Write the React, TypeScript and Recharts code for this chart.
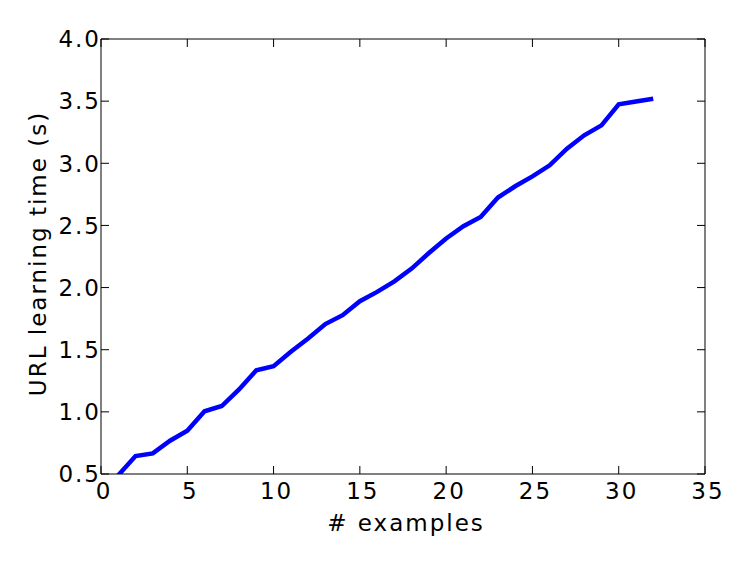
import { LineChart, Line, XAxis, YAxis, Label } from "recharts";

// number of examples vs URL learning time (seconds)
const examples = [
  1, 2, 3, 4, 5, 6, 7, 8, 9, 10, 11, 12, 13, 14, 15, 16, 17, 18, 19, 20, 21,
  22, 23, 24, 25, 26, 27, 28, 29, 30, 31, 32,
];
const learningTime = [
  0.49, 0.645, 0.666, 0.768, 0.848, 1.005, 1.047, 1.18, 1.335, 1.368, 1.483,
  1.59, 1.706, 1.778, 1.89, 1.965, 2.05, 2.153, 2.278, 2.395, 2.494, 2.568,
  2.724, 2.815, 2.895, 2.984, 3.118, 3.225, 3.305, 3.474, 3.497, 3.52,
];
const xTicks = [0, 5, 10, 15, 20, 25, 30, 35];
const yTicks = [0.5, 1.0, 1.5, 2.0, 2.5, 3.0, 3.5, 4.0];

const data = examples.map((n, i) => ({ n, time: learningTime[i] }));

const FONT = "'DejaVu Sans', sans-serif";
const FS = 23;
const SPACING = 2; // old matplotlib text comes out a little wider
const TICK_LEN = 8;

// matplotlib-style ticks: pointing into the plot
const BottomTick = (p: any) => (
  <g>
    <line x1={p.x} y1={p.y} x2={p.x} y2={p.y - TICK_LEN} stroke="#000" />
    <text
      x={p.x + 3}
      y={p.y + 9}
      dy="0.71em"
      textAnchor="middle"
      fontSize={FS}
      fontFamily={FONT}
      letterSpacing={SPACING}
      fill="#000"
    >
      {p.payload.value}
    </text>
  </g>
);

const LeftTick = (p: any) => (
  <g>
    <line x1={p.x} y1={p.y} x2={p.x + TICK_LEN} y2={p.y} stroke="#000" />
    <text
      x={p.x}
      y={p.y}
      dy="0.36em"
      textAnchor="end"
      fontSize={FS}
      fontFamily={FONT}
      letterSpacing={SPACING}
      fill="#000"
    >
      {Number(p.payload.value).toFixed(1)}
    </text>
  </g>
);

const TopTick = (p: any) => (
  <line x1={p.x} y1={p.y} x2={p.x} y2={p.y + TICK_LEN} stroke="#000" />
);

const RightTick = (p: any) => (
  <line x1={p.x} y1={p.y} x2={p.x - TICK_LEN} y2={p.y} stroke="#000" />
);

const XTitle = (props: any) => {
  const vb = props.viewBox || { x: 101, width: 604, y: 474 };
  return (
    <text
      x={vb.x + vb.width / 2 + 3}
      y={vb.y + 57}
      textAnchor="middle"
      fontSize={FS}
      fontFamily={FONT}
      letterSpacing={SPACING}
      fill="#000"
    >
      # examples
    </text>
  );
};

const YTitle = (props: any) => {
  const vb = props.viewBox || { y: 39, height: 435 };
  const cx = 38;
  const cy = vb.y + vb.height / 2 - 3;
  return (
    <text
      x={cx}
      y={cy}
      transform={`rotate(-90 ${cx} ${cy})`}
      textAnchor="middle"
      dominantBaseline="central"
      fontSize={FS}
      fontFamily={FONT}
      letterSpacing={SPACING}
      fill="#000"
    >
      URL learning time (s)
    </text>
  );
};

export default function App() {
  return (
    <div
      style={{
        position: "fixed",
        left: 0,
        top: 0,
        width: 747,
        height: 561,
        background: "#fff",
      }}
    >
      <LineChart
        width={747}
        height={561}
        data={data}
        margin={{ top: 38, right: 41, bottom: 0, left: 0 }}
      >
        <XAxis
          dataKey="n"
          type="number"
          domain={[0, 35]}
          ticks={xTicks}
          interval={0}
          height={87}
          tickSize={0}
          tickMargin={0}
          tick={BottomTick}
          tickLine={false}
          axisLine={{ stroke: "#000", strokeWidth: 1 }}
        >
          <Label content={XTitle} />
        </XAxis>
        <XAxis
          xAxisId="top"
          orientation="top"
          dataKey="n"
          type="number"
          domain={[0, 35]}
          ticks={xTicks}
          interval={0}
          height={1}
          tickSize={0}
          tickMargin={0}
          tick={TopTick}
          tickLine={false}
          axisLine={{ stroke: "#000", strokeWidth: 1 }}
        />
        <YAxis
          type="number"
          domain={[0.5, 4]}
          ticks={yTicks}
          interval={0}
          allowDataOverflow
          width={101}
          tickSize={0}
          tickMargin={0}
          tick={LeftTick}
          tickLine={false}
          axisLine={{ stroke: "#000", strokeWidth: 1 }}
        >
          <Label content={YTitle} />
        </YAxis>
        <YAxis
          yAxisId="right"
          orientation="right"
          type="number"
          domain={[0.5, 4]}
          ticks={yTicks}
          interval={0}
          allowDataOverflow
          width={1}
          tickSize={0}
          tickMargin={0}
          tick={RightTick}
          tickLine={false}
          axisLine={{ stroke: "#000", strokeWidth: 1 }}
        />
        {/* invisible copy so the top/right frame axes have a series */}
        <Line
          xAxisId="top"
          yAxisId="right"
          dataKey="time"
          stroke="none"
          dot={false}
          activeDot={false}
          legendType="none"
          isAnimationActive={false}
        />
        <Line
          type="linear"
          dataKey="time"
          stroke="#0000ff"
          strokeWidth={4.5}
          dot={false}
          isAnimationActive={false}
        />
      </LineChart>
    </div>
  );
}
